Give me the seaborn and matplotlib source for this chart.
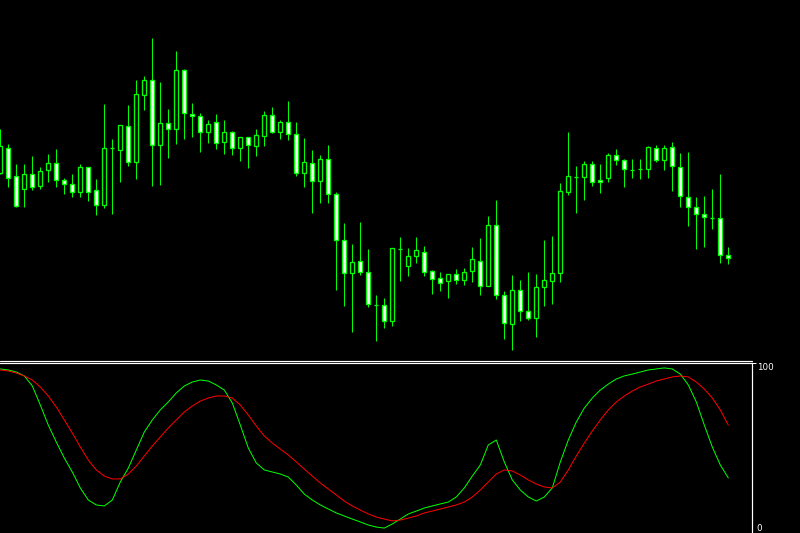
import numpy as np
import pandas as pd
import matplotlib
matplotlib.use("Agg")
import matplotlib.pyplot as plt
import seaborn as sns

# ---------------- data ----------------
opens = [187, 212, 184, 171, 186, 174, 190, 197, 180, 176, 168, 193, 170, 155, 212, 210,
         234, 198, 265, 280, 215, 237, 231, 290, 246, 244, 228, 238, 218, 228, 212, 223,
         214, 224, 245, 228, 238, 226, 187, 197, 179, 201, 166, 120, 87, 99, 88, 55,
         55, 39, 111, 94, 104, 108, 89, 82, 79, 86, 80, 89, 99, 74, 135, 65,
         36, 70, 49, 42, 73, 79, 87, 168, 183, 183, 196, 180, 182, 205, 200, 190,
         191, 191, 212, 200, 213, 193, 163, 153, 146, 142, 142, 105]
highs = [231, 216, 196, 196, 204, 193, 206, 211, 182, 186, 196, 193, 181, 256, 221, 235,
         255, 280, 284, 322, 278, 251, 309, 291, 257, 247, 240, 246, 240, 229, 223, 223,
         231, 249, 253, 240, 259, 238, 222, 210, 205, 215, 168, 137, 116, 138, 111, 65,
         62, 112, 123, 112, 123, 114, 90, 88, 86, 91, 92, 113, 122, 144, 160, 69,
         85, 80, 88, 86, 120, 124, 177, 228, 194, 199, 199, 196, 207, 211, 201, 201,
         201, 214, 215, 215, 218, 207, 208, 163, 164, 171, 186, 113]
lows = [186, 173, 153, 153, 170, 171, 178, 173, 166, 163, 163, 159, 145, 152, 146, 178,
        194, 181, 250, 174, 175, 202, 216, 221, 223, 208, 217, 211, 206, 205, 199, 192,
        204, 214, 227, 221, 220, 184, 173, 147, 157, 157, 70, 54, 28, 85, 53, 19,
        32, 34, 79, 84, 97, 84, 66, 69, 62, 76, 75, 78, 65, 74, 61, 21,
        10, 39, 40, 23, 54, 56, 78, 165, 147, 160, 174, 167, 178, 195, 173, 182,
        181, 182, 198, 190, 169, 153, 134, 111, 113, 131, 97, 96]
closes = [214, 182, 154, 186, 173, 189, 197, 180, 176, 168, 193, 168, 155, 212, 212, 235,
          198, 266, 280, 215, 237, 231, 290, 247, 244, 228, 236, 217, 228, 212, 223, 215,
          225, 245, 228, 238, 226, 187, 198, 179, 201, 166, 120, 87, 98, 88, 56, 55,
          39, 112, 111, 104, 110, 88, 81, 77, 86, 80, 88, 101, 74, 135, 65, 37,
          70, 49, 42, 73, 80, 87, 169, 184, 183, 196, 178, 178, 205, 200, 191, 190,
          191, 213, 200, 212, 194, 164, 153, 146, 143, 142, 105, 102]

stoch_main = [96.5, 95.9, 94.7, 92.4, 86.5, 75.3, 63.5, 53.5, 44.1, 35.9, 26.5, 19.4,
              16.5, 15.9, 19.4, 30.0, 38.2, 48.8, 59.4, 66.5, 72.4, 77.1, 82.4, 86.5,
              88.8, 90.0, 89.4, 87.1, 84.1, 76.5, 63.5, 50.0, 41.2, 37.1, 35.9, 34.7,
              32.9, 28.2, 22.9, 19.4, 16.5, 14.1, 11.8, 10.0, 8.2, 6.5, 4.7, 3.5,
              2.9, 5.3, 8.2, 11.2, 12.9, 14.7, 15.9, 17.1, 18.2, 21.2, 26.5, 33.5,
              40.0, 51.8, 54.7, 41.8, 31.2, 25.3, 21.2, 18.8, 21.2, 26.5, 41.8, 54.7,
              65.3, 73.5, 79.4, 84.1, 87.6, 90.6, 92.4, 93.5, 94.7, 95.9, 96.5, 97.1,
              96.5, 93.5, 87.1, 77.1, 63.5, 50.6, 40.0, 32.4]
stoch_signal = [95.9, 95.3, 94.1, 92.4, 90.0, 85.9, 80.6, 74.1, 66.5, 58.8, 50.6, 42.9,
                37.1, 33.5, 31.8, 31.8, 34.7, 39.4, 45.3, 51.2, 56.5, 61.8, 66.5, 71.2,
                74.7, 77.6, 79.4, 80.6, 80.6, 79.4, 75.3, 69.4, 62.9, 57.1, 52.9, 49.4,
                45.9, 41.8, 37.6, 33.5, 29.4, 25.9, 22.4, 18.8, 15.9, 13.5, 11.2, 9.4,
                8.2, 7.1, 7.6, 8.8, 10.0, 11.8, 12.9, 14.1, 15.3, 16.5, 18.2, 21.2,
                25.3, 30.0, 34.7, 37.1, 36.5, 34.1, 31.2, 28.8, 27.1, 26.5, 30.0, 37.1,
                45.3, 52.9, 60.0, 66.5, 72.4, 77.1, 80.6, 83.5, 85.9, 87.6, 89.4, 90.6,
                91.8, 92.4, 91.8, 88.8, 84.7, 79.4, 72.4, 63.5]

level_labels = ["0", "100"]

n = min(len(opens), len(highs), len(lows), len(closes))
bars = pd.DataFrame({"i": np.arange(n), "open": opens[:n], "high": highs[:n],
                     "low": lows[:n], "close": closes[:n]})
m = min(len(stoch_main), len(stoch_signal))
osc = pd.DataFrame({"i": np.arange(m), "main": stoch_main[:m], "signal": stoch_signal[:m]})

# ---------------- style ----------------
sns.set_theme(style="dark", rc={"axes.facecolor": "black", "figure.facecolor": "black"})
plt.rcParams["font.family"] = ["DejaVu Sans"]

W, H = 800, 533
fig = plt.figure(figsize=(8, 5.33), dpi=100)
fig.patch.set_facecolor("black")

px = 0.72  # one pixel in points
green = "#00ff00"

# price panel
ax1 = fig.add_axes([0, 1 - 359 / H, 1, 359 / H])
ax1.set_facecolor("black")
ax1.set_xlim(-0.0375, -0.0375 + W / 8)
ax1.set_ylim(1, 360)
ax1.vlines(bars["i"], bars["low"], bars["high"], color=green, lw=1.0 * px, zorder=2)
bull = bars[bars["close"] >= bars["open"]]
bear = bars[bars["close"] < bars["open"]]
ax1.bar(bull["i"], bull["close"] - bull["open"], bottom=bull["open"], width=0.5,
        facecolor="black", edgecolor=green, linewidth=1.3 * px, zorder=3)
ax1.bar(bear["i"], bear["open"] - bear["close"], bottom=bear["close"], width=0.5,
        facecolor="white", edgecolor=green, linewidth=1.3 * px, zorder=3)
ax1.set_xticks([])
ax1.set_yticks([])
for s in ax1.spines.values():
    s.set_visible(False)

# oscillator panel
ax2 = fig.add_axes([0, 0, 752 / W, 170 / H])
ax2.set_facecolor("black")
sns.lineplot(data=osc, x="i", y="main", ax=ax2, color="#00ff00", lw=1.0 * px)
sns.lineplot(data=osc, x="i", y="signal", ax=ax2, color="#ff0000", lw=1.0 * px)
ax2.set_xlim(-0.0375, -0.0375 + 752 / 8)
ax2.set_ylim(0, 100)
ax2.set_xlabel("")
ax2.set_ylabel("")
ax2.set_xticks([])
ax2.yaxis.tick_right()
ax2.set_yticks([0, 100])
ax2.set_yticklabels(level_labels)
ax2.tick_params(axis="y", colors="white", labelcolor="white", labelsize=6.3,
                length=3, width=1 * px, pad=0.5, right=True, left=False)
for lbl in ax2.get_yticklabels():
    lbl.set_verticalalignment("top" if lbl.get_text() == "100" else "bottom")
ax2.spines["left"].set_visible(False)
ax2.spines["bottom"].set_visible(False)
ax2.spines["top"].set_color("white")
ax2.spines["right"].set_color("white")
ax2.spines["top"].set_linewidth(1.2 * px)
ax2.spines["right"].set_linewidth(1.2 * px)
ax2.grid(False)
ax1.grid(False)

# separator line between windows
fig.add_artist(plt.Line2D([0, 752 / W], [1 - 360.5 / H, 1 - 360.5 / H],
                          color="white", lw=1.2 * px, transform=fig.transFigure))

fig.savefig("out.png", dpi=100, facecolor="black")
